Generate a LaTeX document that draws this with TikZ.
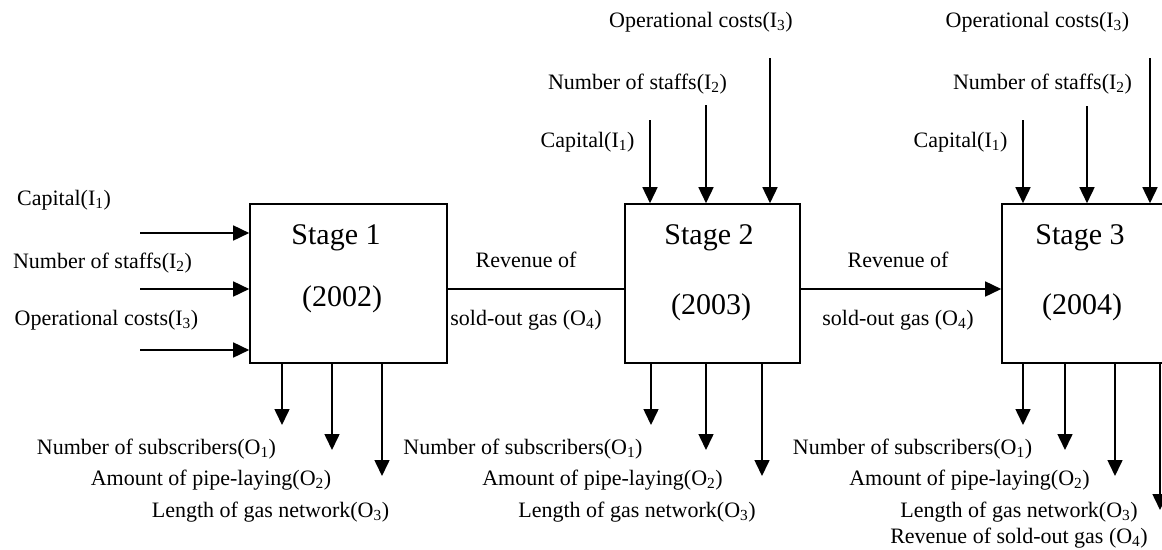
\documentclass[tikz,border=0pt]{standalone}
\usepackage{fontspec}
\setmainfont{Liberation Serif}
\usetikzlibrary{arrows.meta,positioning}
\tikzset{
  stagebox/.style = {draw=black, line width=1.6pt, inner sep=0pt, minimum height=159pt},
  stagetext/.style = {inner sep=0pt, font=\fontsize{30}{34}\selectfont},
  lbl/.style = {inner sep=0pt, font=\fontsize{22}{26}\selectfont},
  arr/.style = {line width=1.6pt, -{Triangle[length=16pt,width=15pt]}},
}

\begin{document}
\begin{tikzpicture}[x=1pt,y=-1pt]
\useasboundingbox (0,0) rectangle (1162,549);
\clip (0,0) rectangle (1162,549);
% stages
\node [stagebox, minimum width=197pt] (s1) at (348.5,283.5) {};
\node [stagebox, minimum width=175pt] (s2) at (712.5,283.5) {};
\node [stagebox, minimum width=190pt] (s3) at (1097,283.5) {};
\node [stagetext] (s1a) at (336,238) {Stage 1};
\node [stagetext] (s1b) at (342,299) {(2002)};
\node [stagetext] (s2a) at (709,238) {Stage 2};
\node [stagetext] (s2b) at (711,307) {(2003)};
\node [stagetext] (s3a) at (1080,238) {Stage 3};
\node [stagetext] (s3b) at (1082,307) {(2004)};

% stage 1 inputs
\node [lbl] (c1) at (64,200) {Capital(I\textsubscript{1})};
\node [lbl] (n1) at (102.5,263) {Number of staffs(I\textsubscript{2})};
\node [lbl] (p1) at (106.5,320) {Operational costs(I\textsubscript{3})};
\coordinate (i11) at (140,233);
\coordinate (i12) at (140,289);
\coordinate (i13) at (140,350);
\draw [arr] (i11) -- (i11 -| s1.west);
\draw [arr] (i12) -- (i12 -| s1.west);
\draw [arr] (i13) -- (i13 -| s1.west);

% stage 1 outputs
\node [lbl] (u1) at (156.5,449) {Number of subscribers(O\textsubscript{1})};
\node [lbl] (a1) at (211,480) {Amount of pipe-laying(O\textsubscript{2})};
\node [lbl] (l1) at (270.5,512) {Length of gas network(O\textsubscript{3})};
\coordinate (o11) at (282,425);
\coordinate (o12) at (332,450);
\coordinate (o13) at (382,476);
\draw [arr] (o11 |- s1.south) -- (o11);
\draw [arr] (o12 |- s1.south) -- (o12);
\draw [arr] (o13 |- s1.south) -- (o13);

% stage 1 -> stage 2
\draw [line width=1.6pt] ([yshift=-5.5pt]s1.east) -- ([yshift=-5.5pt]s2.west);
\node [lbl] (r1a) at (526,260) {Revenue of};
\node [lbl] (r1b) at (526,320) {sold-out gas (O\textsubscript{4})};

% stage 2 inputs
\node [lbl] (c2) at (587.5,142) {Capital(I\textsubscript{1})};
\node [lbl] (n2) at (637.5,84) {Number of staffs(I\textsubscript{2})};
\node [lbl] (p2) at (701,22) {Operational costs(I\textsubscript{3})};
\coordinate (i21) at (650,120);
\coordinate (i22) at (706,105);
\coordinate (i23) at (770,58);
\draw [arr] (i21) -- (i21 |- s2.north);
\draw [arr] (i22) -- (i22 |- s2.north);
\draw [arr] (i23) -- (i23 |- s2.north);

% stage 2 outputs
\node [lbl] (u2) at (523,449) {Number of subscribers(O\textsubscript{1})};
\node [lbl] (a2) at (602.5,480) {Amount of pipe-laying(O\textsubscript{2})};
\node [lbl] (l2) at (637,512) {Length of gas network(O\textsubscript{3})};
\coordinate (o21) at (651,425);
\coordinate (o22) at (706,450);
\coordinate (o23) at (762,476);
\draw [arr] (o21 |- s2.south) -- (o21);
\draw [arr] (o22 |- s2.south) -- (o22);
\draw [arr] (o23 |- s2.south) -- (o23);

% stage 2 -> stage 3
\draw [arr] ([yshift=-5.5pt]s2.east) -- ([yshift=-5.5pt]s3.west);
\node [lbl] (r2a) at (898,260) {Revenue of};
\node [lbl] (r2b) at (898,320) {sold-out gas (O\textsubscript{4})};

% stage 3 inputs
\node [lbl] (c3) at (960.5,142) {Capital(I\textsubscript{1})};
\node [lbl] (n3) at (1042.5,84) {Number of staffs(I\textsubscript{2})};
\node [lbl] (p3) at (1037.5,22) {Operational costs(I\textsubscript{3})};
\coordinate (i31) at (1023,120);
\coordinate (i32) at (1087,106);
\coordinate (i33) at (1150,58);
\draw [arr] (i31) -- (i31 |- s3.north);
\draw [arr] (i32) -- (i32 |- s3.north);
\draw [arr] (i33) -- (i33 |- s3.north);

% stage 3 outputs
\node [lbl] (u3) at (912.5,449) {Number of subscribers(O\textsubscript{1})};
\node [lbl] (a3) at (969.5,480) {Amount of pipe-laying(O\textsubscript{2})};
\node [lbl] (l3) at (1019,512) {Length of gas network(O\textsubscript{3})};
\node [lbl] (v3) at (1019,538) {Revenue of sold-out gas (O\textsubscript{4})};
\coordinate (o31) at (1023,425);
\coordinate (o32) at (1065,450);
\coordinate (o33) at (1115,476);
\coordinate (o34) at (1160,510);
\draw [arr] (o31 |- s3.south) -- (o31);
\draw [arr] (o32 |- s3.south) -- (o32);
\draw [arr] (o33 |- s3.south) -- (o33);
\draw [arr] (o34 |- s3.south) -- (o34);
\end{tikzpicture}
\end{document}
